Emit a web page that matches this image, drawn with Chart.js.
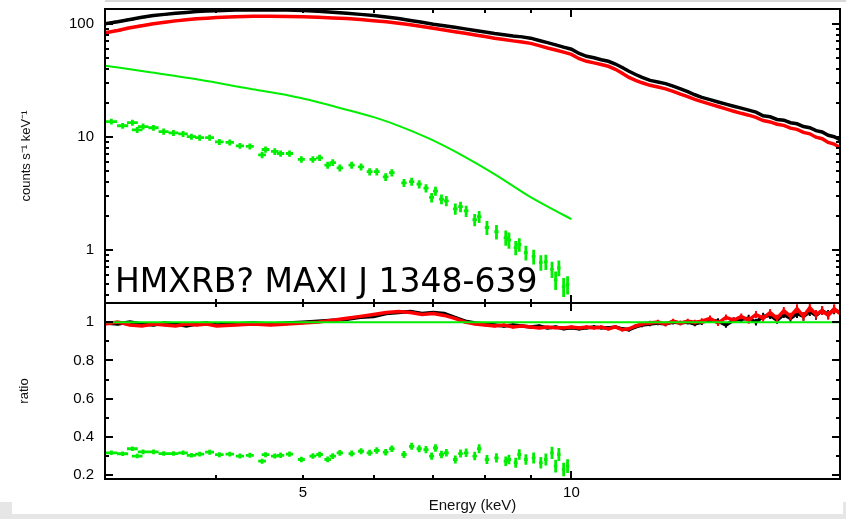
<!DOCTYPE html>
<html>
<head>
<meta charset="utf-8">
<script src="https://cdn.jsdelivr.net/npm/chart.js@4.4.1/dist/chart.umd.min.js"></script>
<style>
  html, body { margin: 0; padding: 0; background: #fff; }
  #wrap { position: relative; width: 846px; height: 519px; }
</style>
</head>
<body>
<div id="wrap"><canvas id="spec"></canvas></div>
<script>
// energy grid of the two detector spectra (keV)
const energy = [3.0, 3.1, 3.2, 3.3, 3.4, 3.5, 3.6, 3.7, 3.8, 3.9,
  4.0, 4.2, 4.4, 4.6, 4.8, 5.0, 5.2, 5.4, 5.6, 5.8,
  6.0, 6.2, 6.4, 6.6, 6.8, 7.0, 7.2, 7.4, 7.6, 7.8,
  8.0, 8.2, 8.4, 8.6, 8.8, 9.0, 9.2, 9.4, 9.6, 9.8,
  10.0, 10.2, 10.4, 10.6, 10.8, 11.0, 11.2, 11.4, 11.6, 11.8,
  12.0, 12.25, 12.5, 12.75, 13.0, 13.25, 13.5, 13.75,
  14.0, 14.3, 14.6, 14.9, 15.2, 15.5,
  15.8, 16.1, 16.4, 16.7, 17.0, 17.3, 17.6,
  17.9, 18.2, 18.5, 18.8, 19.1, 19.4, 19.7, 20.0];

const countsBlack = [100, 104, 109, 114, 118, 121, 124, 126, 128, 129.5,
  130.5, 132, 132.5, 132.5, 132, 131, 129, 126.5, 124, 121,
  118, 114.5, 111, 107, 103, 99, 96, 93, 90, 87,
  84.5, 82, 80, 78, 76.5, 74.5, 71, 68, 65, 62,
  59.5, 54.5, 51.5, 50, 48, 46.5, 44, 41, 38, 35.5,
  33.5, 31.5, 30.5, 29.5, 28, 26.5, 25, 23.5,
  22.3, 21.3, 20.3, 19.4, 18.6, 17.9,
  17.2, 16.5, 15.3, 15.0, 14.2, 14.0, 13.3,
  13.0, 12.3, 12.0, 11.3, 11.0, 10.3, 10.0, 9.4];

const countsRed = [83, 87, 92, 96, 100, 103, 106, 108.5, 110.5, 112,
  113.5, 115.5, 116.5, 116.5, 116, 115, 114, 112.5, 111, 109,
  106.5, 104, 101, 98, 94.5, 91, 88, 85, 82.5, 79.5,
  77, 74.5, 72.5, 70.5, 69, 67, 64, 61, 58.5, 56,
  53.5, 49, 46.5, 45, 43.5, 42, 39.5, 36.5, 33.5, 31.5,
  30, 28.5, 27.5, 26.5, 25.2, 23.8, 22.6, 21.4,
  20.4, 19.4, 18.5, 17.6, 16.8, 16.1,
  15.5, 14.8, 13.9, 13.5, 12.9, 12.6, 11.9,
  11.6, 10.9, 10.6, 9.9, 9.6, 8.9, 8.6, 8.0];

const ratioBlack = [0.995, 0.99, 1.0, 0.99, 0.985, 0.995, 0.99, 0.98, 0.99, 0.995,
  0.985, 0.99, 0.995, 0.99, 0.995, 1.0, 1.005, 1.01, 1.015, 1.025,
  1.03, 1.045, 1.05, 1.055, 1.045, 1.05, 1.045, 1.025, 1.005, 0.995,
  0.99, 0.985, 0.98, 0.985, 0.98, 0.975, 0.98, 0.97, 0.975, 0.965,
  0.97, 0.965, 0.97, 0.975, 0.97, 0.97, 0.975, 0.965, 0.96, 0.975,
  0.985, 0.99, 0.995, 0.99, 1.0, 0.995, 1.0, 0.99,
  1.0, 1.01, 1.005, 0.985, 1.01, 1.015,
  1.02, 1.0, 1.03, 1.035, 1.01, 1.04, 1.02,
  1.045, 1.03, 1.055, 1.035, 1.06, 1.04, 1.065, 1.05];

const ratioRed = [0.99, 1.0, 0.985, 0.98, 0.99, 0.985, 0.98, 0.99, 0.985, 0.99,
  0.98, 0.985, 0.99, 0.985, 0.99, 0.995, 1.0, 1.01, 1.02, 1.03,
  1.04, 1.05, 1.055, 1.05, 1.04, 1.045, 1.035, 1.02, 1.0, 0.99,
  0.985, 0.98, 0.985, 0.975, 0.98, 0.975, 0.97, 0.975, 0.97, 0.97,
  0.975, 0.97, 0.975, 0.97, 0.975, 0.965, 0.975, 0.96, 0.965, 0.98,
  0.99, 0.995, 1.0, 0.99, 1.005, 0.995, 1.005, 1.0,
  1.005, 1.02, 0.995, 1.025, 1.01, 1.03,
  1.01, 1.04, 1.02, 1.05, 1.02, 1.06, 1.03,
  1.07, 1.03, 1.075, 1.04, 1.06, 1.035, 1.07, 1.045];

// fractional 1-sigma errors of the two spectra, per bin
const relErr = [0.006, 0.006, 0.006, 0.006, 0.006, 0.006, 0.006, 0.006, 0.006, 0.006,
  0.006, 0.006, 0.006, 0.006, 0.006, 0.006, 0.006, 0.006, 0.006, 0.006,
  0.007, 0.007, 0.007, 0.007, 0.007, 0.007, 0.007, 0.007, 0.007, 0.007,
  0.008, 0.008, 0.008, 0.008, 0.008, 0.008, 0.008, 0.008, 0.008, 0.008,
  0.009, 0.009, 0.009, 0.009, 0.009, 0.009, 0.009, 0.009, 0.009, 0.009,
  0.012, 0.012, 0.012, 0.012, 0.012, 0.012, 0.012, 0.012,
  0.015, 0.015, 0.015, 0.015, 0.015, 0.015,
  0.018, 0.018, 0.018, 0.018, 0.018, 0.018, 0.018,
  0.022, 0.022, 0.022, 0.022, 0.022, 0.022, 0.022, 0.022];
const binHalf = 0.03; // keV

// third spectrum, coarser bins, only up to 10 keV
const greenEnergy = [3.05, 3.14, 3.22, 3.26, 3.31, 3.40, 3.49, 3.58, 3.67, 3.75,
  3.83, 3.93, 4.03, 4.14, 4.25, 4.36, 4.50, 4.54, 4.65, 4.72,
  4.83, 4.98, 5.13, 5.22, 5.33, 5.40, 5.50, 5.67, 5.81, 5.94,
  6.05, 6.19, 6.29, 6.49, 6.62, 6.75, 6.87, 6.97, 7.04, 7.15,
  7.24, 7.41, 7.51, 7.62, 7.79, 7.88, 8.04, 8.24, 8.44, 8.51,
  8.66, 8.74, 8.89, 9.07, 9.24, 9.36, 9.51, 9.60, 9.68, 9.80, 9.90];

const greenCounts = [13.6, 12.5, 13.3, 11.5, 12.3, 12.0, 11.1, 10.8, 10.6, 10.0,
  9.8, 9.8, 9.0, 8.9, 8.3, 8.2, 6.9, 7.7, 7.4, 7.1,
  7.1, 6.3, 6.3, 6.5, 5.6, 5.9, 5.3, 5.6, 5.4, 4.9,
  4.9, 4.4, 4.8, 3.9, 4.0, 3.8, 3.5, 2.9, 3.3, 2.8,
  2.7, 2.3, 2.4, 2.2, 1.84, 1.96, 1.57, 1.44, 1.28, 1.22,
  1.04, 1.11, 0.94, 0.87, 0.77, 0.78, 0.67, 0.54, 0.69, 0.47, 0.49];

const greenCountsErr = [0.8, 0.75, 0.8, 0.7, 0.75, 0.7, 0.7, 0.65, 0.65, 0.6,
  0.6, 0.6, 0.55, 0.55, 0.5, 0.5, 0.45, 0.5, 0.5, 0.45,
  0.45, 0.42, 0.42, 0.42, 0.4, 0.4, 0.38, 0.4, 0.38, 0.36,
  0.36, 0.34, 0.36, 0.32, 0.32, 0.32, 0.3, 0.28, 0.3, 0.28,
  0.28, 0.26, 0.26, 0.25, 0.23, 0.24, 0.22, 0.21, 0.2, 0.2,
  0.15, 0.15, 0.14, 0.13, 0.12, 0.12, 0.11, 0.1, 0.11, 0.09, 0.09];

const greenRatio = [0.317, 0.312, 0.338, 0.30, 0.322, 0.322, 0.313, 0.313, 0.317, 0.304,
  0.31, 0.32, 0.307, 0.31, 0.30, 0.304, 0.273, 0.307, 0.30, 0.304,
  0.31, 0.282, 0.30, 0.308, 0.282, 0.30, 0.317, 0.313, 0.325, 0.317,
  0.329, 0.32, 0.338, 0.308, 0.351, 0.338, 0.334, 0.30, 0.342, 0.308,
  0.317, 0.282, 0.313, 0.317, 0.30, 0.338, 0.282, 0.29, 0.273, 0.282,
  0.265, 0.308, 0.282, 0.29, 0.265, 0.282, 0.317, 0.247, 0.308, 0.23, 0.247];

const greenRatioErr = [0.012, 0.012, 0.012, 0.012, 0.012, 0.012, 0.012, 0.012, 0.012, 0.012,
  0.013, 0.013, 0.013, 0.013, 0.013, 0.013, 0.013, 0.013, 0.013, 0.014,
  0.014, 0.014, 0.014, 0.015, 0.015, 0.015, 0.015, 0.016, 0.016, 0.016,
  0.017, 0.017, 0.017, 0.018, 0.018, 0.018, 0.019, 0.019, 0.019, 0.02,
  0.02, 0.021, 0.021, 0.022, 0.022, 0.023, 0.023, 0.024, 0.025, 0.025,
  0.026, 0.027, 0.028, 0.029, 0.03, 0.031, 0.032, 0.033, 0.034, 0.035, 0.036];

const greenBinHalf = 0.045; // keV

// model curve through the green spectrum
const modelEnergy = [3.0, 3.37, 3.83, 4.36, 4.71, 4.96, 5.6, 6.1, 6.35, 6.93, 7.55, 8.24, 8.96, 9.44, 10.0];
const modelCounts = [42.5, 37.2, 31.9, 26.6, 24.0, 22.1, 17.3, 14.3, 12.8, 9.6, 6.8, 4.55, 2.98, 2.37, 1.86];
const unityRatio = 1;

// axes
const energyRange = [3, 20];
const countsRange = [0.337, 135];
const ratioRange = [0.18, 1.1];
const energyLabels = [5, 10];
const energyMajor = [10];
const energyMinor = [4, 5, 6, 7, 8, 9];
const countsLabels = [1, 10, 100];
const countsMinor = [0.4, 0.5, 0.6, 0.7, 0.8, 0.9, 2, 3, 4, 5, 6, 7, 8, 9, 20, 30, 40, 50, 60, 70, 80, 90];
const ratioLabels = [0.2, 0.4, 0.6, 0.8, 1];
const ratioMinor = [0.3, 0.5, 0.7, 0.9];

const sourceName = 'HMXRB? MAXI J 1348-639';

const BLACK = '#000000', RED = '#ff0000', GREEN = '#00ee00';

const pts = (xs, ys) => xs.map((x, i) => ({ x: x, y: ys[i] }));
const scaled = (vals, rel) => vals.map((v, i) => v * rel[i]);

// page background with the grey strips round the figure
const chrome = {
  id: 'chrome',
  beforeDraw(chart) {
    const ctx = chart.ctx, w = chart.width, h = chart.height;
    ctx.save();
    ctx.fillStyle = '#ffffff';
    ctx.fillRect(0, 0, w, h);
    ctx.fillStyle = '#d8d8d8';
    ctx.fillRect(105, 0, w - 105, 2);
    ctx.fillStyle = '#e6e6e6';
    ctx.fillRect(0, 514, w, h - 514);
    ctx.fillRect(0, 502, 12, 12);
    ctx.fillRect(843, 502, w - 843, 12);
    ctx.restore();
  }
};

// crosses: horizontal arm = bin half width, vertical = error
const errorBars = {
  id: 'errorBars',
  afterDatasetDraw(chart, args) {
    const ds = chart.data.datasets[args.index];
    if (!ds.errY) return;
    const xs = chart.scales.x, ys = chart.scales[ds.yAxisID];
    const ctx = chart.ctx;
    ctx.save();
    ctx.beginPath();
    ctx.rect(xs.left, ys.top, xs.right - xs.left, ys.bottom - ys.top);
    ctx.clip();
    ctx.strokeStyle = ds.borderColor;
    ctx.lineWidth = ds.errWidth || 2;
    ctx.beginPath();
    ds.data.forEach((p, i) => {
      const px = xs.getPixelForValue(p.x), py = ys.getPixelForValue(p.y);
      ctx.moveTo(xs.getPixelForValue(p.x - ds.errX), py);
      ctx.lineTo(xs.getPixelForValue(p.x + ds.errX), py);
      ctx.moveTo(px, ys.getPixelForValue(p.y + ds.errY[i]));
      ctx.lineTo(px, ys.getPixelForValue(p.y - ds.errY[i]));
    });
    ctx.stroke();
    ctx.restore();
  }
};

// boxed panels with inward ticks on all four sides, plus the source name
const frame = {
  id: 'frame',
  afterDatasetsDraw(chart) {
    const ctx = chart.ctx, x = chart.scales.x;
    ctx.save();
    ctx.strokeStyle = BLACK;
    ctx.lineWidth = 2;
    const panels = [
      [chart.scales.y, countsLabels, countsMinor],
      [chart.scales.yr, ratioLabels, ratioMinor]
    ];
    panels.forEach(([ys, major, minor]) => {
      ctx.strokeRect(x.left, ys.top, x.right - x.left, ys.bottom - ys.top);
      ctx.beginPath();
      const yTick = (v, len) => {
        const py = Math.round(ys.getPixelForValue(v));
        ctx.moveTo(x.left, py); ctx.lineTo(x.left + len, py);
        ctx.moveTo(x.right, py); ctx.lineTo(x.right - len, py);
      };
      const xTick = (v, len) => {
        const px = Math.round(x.getPixelForValue(v));
        ctx.moveTo(px, ys.top); ctx.lineTo(px, ys.top + len);
        ctx.moveTo(px, ys.bottom); ctx.lineTo(px, ys.bottom - len);
      };
      major.forEach(v => yTick(v, 8));
      minor.forEach(v => yTick(v, 4));
      energyMajor.forEach(v => xTick(v, 8));
      energyMinor.forEach(v => xTick(v, 4));
      ctx.stroke();
    });
    ctx.font = '33px "DejaVu Sans"';
    ctx.fillStyle = BLACK;
    ctx.textBaseline = 'alphabetic';
    ctx.fillText(sourceName, x.left + 10, chart.scales.y.bottom - 11);
    ctx.restore();
  }
};

const tickFont = { family: 'Liberation Sans', size: 15 };
const noPad = s => { s.paddingTop = 0; s.paddingBottom = 0; s.paddingLeft = 0; s.paddingRight = 0; };

new Chart(document.getElementById('spec'), {
  type: 'scatter',
  data: {
    datasets: [
      { label: 'model ratio', yAxisID: 'yr', data: [{ x: energyRange[0], y: unityRatio }, { x: energyRange[1], y: unityRatio }],
        showLine: true, borderColor: GREEN, borderWidth: 2, pointRadius: 0 },
      { label: 'green ratio', yAxisID: 'yr', data: pts(greenEnergy, greenRatio),
        errY: greenRatioErr, errX: greenBinHalf, errWidth: 2.8, borderColor: GREEN, pointRadius: 0 },
      { label: 'red ratio', yAxisID: 'yr', data: pts(energy, ratioRed), showLine: true,
        errY: scaled(ratioRed, relErr), errX: binHalf, borderColor: RED, borderWidth: 3.5, pointRadius: 0 },
      { label: 'black ratio', yAxisID: 'yr', data: pts(energy, ratioBlack), showLine: true,
        errY: scaled(ratioBlack, relErr), errX: binHalf, borderColor: BLACK, borderWidth: 3.5, pointRadius: 0 },
      { label: 'model', yAxisID: 'y', data: pts(modelEnergy, modelCounts), showLine: true,
        borderColor: GREEN, borderWidth: 2, pointRadius: 0, cubicInterpolationMode: 'monotone' },
      { label: 'green', yAxisID: 'y', data: pts(greenEnergy, greenCounts),
        errY: greenCountsErr, errX: greenBinHalf, errWidth: 2.8, borderColor: GREEN, pointRadius: 0 },
      { label: 'red', yAxisID: 'y', data: pts(energy, countsRed), showLine: true,
        errY: scaled(countsRed, relErr), errX: binHalf, borderColor: RED, borderWidth: 3.5, pointRadius: 0 },
      { label: 'black', yAxisID: 'y', data: pts(energy, countsBlack), showLine: true,
        errY: scaled(countsBlack, relErr), errX: binHalf, borderColor: BLACK, borderWidth: 3.5, pointRadius: 0 }
    ]
  },
  options: {
    responsive: true,
    maintainAspectRatio: false,
    animation: false,
    events: [],
    layout: { padding: { top: 9, right: 6, bottom: 0, left: 0 } },
    plugins: { legend: { display: false }, tooltip: { enabled: false } },
    scales: {
      x: {
        type: 'logarithmic', position: 'bottom', bounds: 'data',
        min: energyRange[0], max: energyRange[1],
        afterBuildTicks: s => { s.ticks = energyLabels.map(v => ({ value: v })); },
        afterFit: s => { s.height = 40; noPad(s); },
        grid: { display: false }, border: { display: false },
        ticks: { callback: v => String(v), font: tickFont, color: BLACK, padding: -3, maxRotation: 0, autoSkip: false },
        title: { display: true, text: 'Energy (keV)', color: '#111', font: { family: 'Liberation Sans', size: 15 }, padding: { top: 0, bottom: 4 } }
      },
      yr: {
        type: 'linear', position: 'left', stack: 'panels', stackWeight: 176, bounds: 'data',
        min: ratioRange[0], max: ratioRange[1],
        afterBuildTicks: s => { s.ticks = ratioLabels.map(v => ({ value: v })); },
        afterFit: s => { s.width = 105; noPad(s); },
        grid: { display: false }, border: { display: false },
        ticks: { callback: v => String(v), font: tickFont, color: BLACK, padding: 3, autoSkip: false },
        title: { display: true, text: 'ratio', color: '#111', font: { family: 'Liberation Sans', size: 13 }, padding: { top: 17, bottom: 0 } }
      },
      y: {
        type: 'logarithmic', position: 'left', stack: 'panels', stackWeight: 294, bounds: 'data',
        min: countsRange[0], max: countsRange[1],
        afterBuildTicks: s => { s.ticks = countsLabels.map(v => ({ value: v })); },
        afterFit: s => { s.width = 105; noPad(s); },
        grid: { display: false }, border: { display: false },
        ticks: { callback: v => String(v), font: tickFont, color: BLACK, padding: 3, autoSkip: false },
        title: { display: true, text: 'counts s⁻¹ keV⁻¹', color: '#111', font: { family: 'Liberation Sans', size: 13 }, padding: { top: 19, bottom: 0 } }
      }
    }
  },
  plugins: [chrome, errorBars, frame]
});
</script>
</body>
</html>
